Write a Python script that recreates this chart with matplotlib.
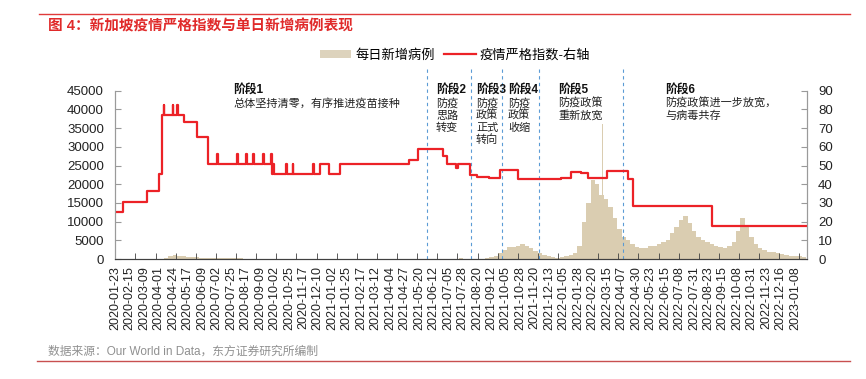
import matplotlib
matplotlib.use('Agg')
import matplotlib.pyplot as plt
import matplotlib.dates as mdates
from matplotlib.ticker import FixedLocator
from matplotlib.patches import Patch
from matplotlib.lines import Line2D
import pandas as pd

plt.rcParams['font.family'] = ['Liberation Sans', 'Noto Sans CJK SC']

# daily new cases (week starting 2020-01-23)
case_start = '2020-01-23'
weekly_cases = [
    # 2020
    3, 5, 8, 5, 3, 3, 10, 20, 40, 60,
    100, 250, 900, 1000, 700, 700, 650, 550, 550, 400,
    350, 230, 220, 200, 250, 250, 350, 330, 200, 100,
    90, 70, 50, 30, 25, 20, 10, 10, 8, 8,
    8, 8, 6, 6, 8, 8, 10, 15, 18, 20, 25, 30,
    # 2021
    25, 25, 20, 15, 12, 12, 15, 15, 15, 20,
    25, 25, 30, 25, 25, 25, 35, 40, 30, 25,
    20, 15, 20, 15, 20, 100, 150, 130, 80, 60,
    70, 120, 250, 550, 900, 1500, 2500, 3100, 3300, 3500,
    3900, 3400, 3000, 2200, 1700, 1100, 700, 450, 300, 500, 900, 1200,
    # 2022 - 2023
    1500, 3500, 10000, 15000, 21000, 20000, 17000, 16000, 14000, 11000,
    8000, 6000, 5000, 4000, 3200, 3000, 3000, 3500, 3500, 4000,
    4500, 5000, 7000, 8500, 10500, 11500, 9500, 7500, 6000, 5000,
    4500, 4000, 3500, 3200, 3000, 3500, 4500, 7500, 11000, 9000,
    6000, 4000, 3000, 2500, 2000, 1800, 1600, 1300, 1100, 900, 800, 700, 500,
]
# single-day spikes
spike_dates = ['2022-02-22', '2022-03-08']
spike_cases = [26000, 36000]

# stringency index (right axis), value from each change date on
index_dates = [
    '2020-01-23', '2020-02-05', '2020-03-13', '2020-04-02', '2020-04-06', '2020-04-09',
    '2020-04-10', '2020-04-23', '2020-04-24', '2020-04-30', '2020-05-01', '2020-05-11',
    '2020-06-01', '2020-06-18', '2020-07-03', '2020-07-04', '2020-08-04', '2020-08-05',
    '2020-08-18', '2020-08-19', '2020-08-29', '2020-08-30', '2020-09-14', '2020-09-15',
    '2020-09-27', '2020-09-28', '2020-09-30', '2020-10-01', '2020-10-21', '2020-10-22',
    '2020-10-31', '2020-11-01', '2020-12-03', '2020-12-04', '2020-12-13', '2020-12-28',
    '2021-01-14', '2021-05-04', '2021-05-18', '2021-06-27', '2021-07-04', '2021-07-18',
    '2021-07-21', '2021-08-09', '2021-08-20', '2021-09-08', '2021-09-26', '2021-10-24',
    '2021-12-31', '2022-01-16', '2022-02-01', '2022-02-13', '2022-03-15', '2022-04-17',
    '2022-04-26', '2022-08-29', '2023-01-25',
]
index_values = [
    25.0, 30.6, 36.1, 45.4, 76.9, 82.4,
    76.9, 82.4, 76.9, 82.4, 76.9, 73.0,
    65.5, 50.9, 56.0, 50.9, 56.0, 50.9,
    56.0, 50.9, 56.0, 50.9, 56.0, 50.9,
    56.0, 45.4, 50.9, 45.4, 50.9, 45.4,
    50.9, 45.4, 50.9, 45.4, 50.9, 45.4,
    50.9, 52.8, 58.8, 55.1, 50.9, 48.6,
    50.9, 44.9, 43.8, 43.3, 47.4, 42.6,
    43.5, 46.5, 46.0, 43.5, 46.9, 42.6,
    28.2, 17.6, 17.6,
]

# phase boundaries and labels
phase_dates = ['2021-06-02', '2021-08-11', '2021-09-29', '2021-11-26', '2022-04-09']
phase_titles = ['阶段1', '阶段2', '阶段3', '阶段4', '阶段5', '阶段6']
phase_texts = ['总体坚持清零，有序推进疫苗接种', '防疫\n思路\n转变', '防疫\n政策\n正式\n转向',
               '防疫\n政策\n收缩', '防疫政策\n重新放宽', '防疫政策进一步放宽，\n与病毒共存']
phase_text_x = [233, 436, 476, 508, 558, 665]

bar_color = '#dacdb1'
red = '#ec2227'
W, H = 866, 379

fig = plt.figure(figsize=(W / 100, H / 100), dpi=100)
ax = fig.add_axes([115 / W, 1 - 259 / H, 692 / W, 168.3 / H])

week_x = pd.date_range(case_start, periods=len(weekly_cases), freq='7D')
ax.bar(week_x, weekly_cases, width=7, align='edge', color=bar_color, linewidth=0)
ax.bar(pd.to_datetime(spike_dates), spike_cases, width=1, color=bar_color, linewidth=0)

for d in phase_dates:
    ax.axvline(pd.Timestamp(d), ymin=0, ymax=1.13, clip_on=False, color='#5b9bd5',
               ls=(0, (3, 3)), lw=0.8)

ax.set_ylim(0, 45000)
ax.set_yticks(range(0, 45001, 5000))
ax.set_xlim(pd.Timestamp('2020-01-22 12:00'), pd.Timestamp('2023-01-27'))

label_dates = pd.date_range('2020-01-23', '2023-01-08', freq='23D')
ax.set_xticks(label_dates)
ax.set_xticklabels([d.strftime('%Y-%m-%d') for d in label_dates], rotation=90)
minor = pd.date_range('2020-02-24', '2023-01-27', freq='32D')
ax.xaxis.set_minor_locator(FixedLocator(mdates.date2num(minor)))

ax2 = ax.twinx()
ax2.step(pd.to_datetime(index_dates), index_values, where='post', color=red, lw=1.6)
ax2.set_ylim(0, 90)
ax2.set_yticks(range(0, 91, 10))

for a in (ax, ax2):
    a.spines['top'].set_visible(False)
    a.spines['left'].set_color('#9a9a9a')
    a.spines['right'].set_color('#9a9a9a')
    a.spines['bottom'].set_color('#404040')
ax.tick_params(axis='y', direction='in', length=4, color='#9a9a9a', labelsize=9.5,
               labelcolor='#222222', pad=8)
ax2.tick_params(axis='y', direction='in', length=4, color='#9a9a9a', labelsize=9.5,
                labelcolor='#222222', pad=8)
ax.tick_params(axis='x', which='major', length=0, labelsize=9, labelcolor='#222222', pad=5)
ax.tick_params(axis='x', which='minor', direction='in', length=4, color='#404040')

# phase annotations
for t, body, x in zip(phase_titles, phase_texts, phase_text_x):
    fig.text(x / W, 1 - 84 / H, t, fontsize=8.5, fontweight='bold', va='top', color='#111111')
    fig.text(x / W, 1 - 97.5 / H, body, fontsize=8, va='top', linespacing=1.2, color='#222222')

# legend
handles = [Patch(facecolor='#ddd3bd', edgecolor='none'), Line2D([0], [0], color=red, lw=1.6)]
fig.legend(handles, ['每日新增病例', '疫情严格指数-右轴'], loc='center', ncol=2, frameon=False,
           bbox_to_anchor=(455 / W, 1 - 55 / H), fontsize=9.5, handlelength=2.4,
           handleheight=0.6, handletextpad=0.3, columnspacing=0.7)

# title, source and rules
fig.text(48 / W, 1 - 26 / H, '图 4：新加坡疫情严格指数与单日新增病例表现', fontsize=10.5,
         fontweight='bold', color='#e02a2a', va='center')
fig.text(48 / W, 1 - 352 / H, '数据来源：Our World in Data，东方证券研究所编制', fontsize=8.5,
         color='#909090', va='center')
fig.add_artist(Line2D([39 / W, 850 / W], [1 - 14 / H, 1 - 14 / H], color='#e03a3a', lw=1))
fig.add_artist(Line2D([37 / W, 850 / W], [1 - 361 / H, 1 - 361 / H], color='#c85050', lw=1))

fig.savefig('out.png', dpi=100)
